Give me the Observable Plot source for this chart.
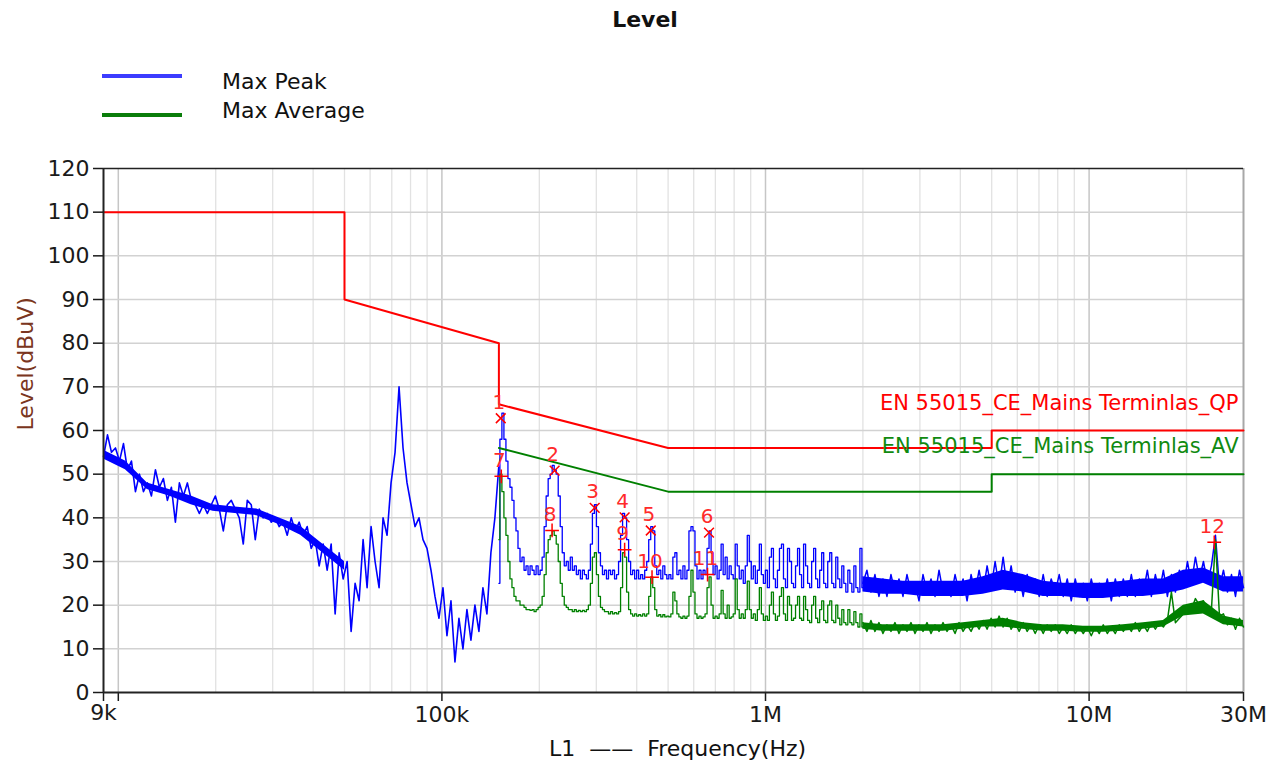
<!DOCTYPE html>
<html><head><meta charset="utf-8">
<script src="https://cdn.jsdelivr.net/npm/d3@7"></script>
<script src="https://cdn.jsdelivr.net/npm/@observablehq/plot@0.6"></script>
<style>
html,body{margin:0;padding:0;background:#fff;overflow:hidden;font-family:"DejaVu Sans",sans-serif;}
#head{position:relative;width:1275px;height:140px;}
.title{position:absolute;left:0;width:1290px;top:8px;text-align:center;font-weight:bold;font-size:22px;line-height:24px;color:#111}
.sw{position:absolute;left:102px;width:80px;height:4px}
.lt{position:absolute;left:222px;font-size:22px;line-height:26px;color:#111;white-space:nowrap}
#chart svg{display:block}
</style></head>
<body>
<div id="head">
  <div class="title">Level</div>
  <div class="sw" style="top:74px;background:#3c3cff"></div>
  <div class="lt" style="top:69px">Max Peak</div>
  <div class="sw" style="top:113px;background:#0a7d0a"></div>
  <div class="lt" style="top:98px">Max Average</div>
</div>
<div id="chart"></div>
<script>
// ---- sweep segments (start Hz, stop Hz); values are evenly spaced in log frequency
const segA = [9e3, 150e3];
const segB = [150e3, 2e6];
const segC = [2e6, 30e6];
const segLow = [9e3, 50e3];

// ---- Max Peak (dBuV)
const peakA = [54,59,55,56,53,57,51,53,46,50,
46,48,45,51,47,49,44,47,39,48,
45,48,44,43,41,43,41,43,45,42,
37,43,44,42,40,34,44,43,35,42,
40,41,39,40,38,39,36,40,37,39,
36,38,33,35,29,34,28,34,18,32,
26,30,14,25,21,35,24,38,30,24,
40,36,48,55,70,56,48,43,38,40,
35,33,28,22,17,24,13,21,7,17,
10,19,12,20,14,24,18,32,40,52];
const peakB = [25,58,64,58,53,49,47,44,40,37,
33,30,31,28,29,27,29,28,27,29,
27,28,31,38,45,49,50,52,51,50,
45,38,32,29,30,28,31,28,29,27,
28,26,28,27,26,28,34,41,43,38,
32,29,27,28,26,28,27,28,26,27,
30,36,41,40,35,30,27,28,26,28,
26,27,26,28,30,35,38,37,29,27,
28,26,29,27,26,27,26,31,32,27,
28,26,29,26,28,37,38,37,29,26,
28,26,28,27,33,37,32,27,29,26,
28,34,27,31,26,29,27,26,34,29,
26,28,25,29,36,30,26,29,25,28,
34,27,25,28,24,31,33,26,24,28,
33,34,26,24,33,30,25,24,29,33,
27,24,34,29,25,24,30,33,26,24,
28,32,25,24,30,32,25,24,31,26,
24,29,25,23,28,25,23,29,24,23,
33,24];
const peakC = [25,28,23,27,22,26,22,27,23,26,
22,27,23,25,21,27,23,26,22,28,
23,25,22,27,23,26,21,27,23,28,
23,29,24,30,24,31,24,29,23,27,
22,27,23,26,22,27,22,26,23,27,
22,26,21,26,22,25,21,26,22,25,
22,26,21,26,22,26,22,27,22,26,
23,28,22,27,23,28,22,27,23,28,
24,30,25,31,26,30,25,29,36,24,
28,23,27,22,28,24];
// dense noise core of Max Peak (low / high edge)
const peakLowLo = [53.5,51,46.5,45,43,41.5,41,40.5,38.5,36,32,28];
const peakLowHi = [55.5,53,48,46.5,45,43,42.5,42,40,38,34,30];
const peakBandLo = [23,22.5,22.5,22,22,22,22.5,23.5,23,22,22,21.5,21.5,22,22,22.5,23.5,25,23,23];
const peakBandHi = [26.5,26,25.5,25.5,25.5,25.5,26.5,28,27,25.5,25,25,25,25.5,26,26,28,28.5,26.5,26.5];

// ---- Max Average (dBuV)
const avgB = [35,50,46,40,36,30,26,24,22,21,
21,20,20,19.5,19,19,18.8,19,18.5,19,
19.5,20,22,27,32,35,36,37,36,34,
30,25,22,20,19.5,19,19,18.5,19,18.5,
18.8,18.5,18.8,18.5,19,20,25,31,32,27,
22,19.5,19,18.5,18.5,18,18.5,18,18.3,18,
18.5,24,32,31,23,19,18,17.5,18,17.5,
17.8,17.5,18,17.5,18,22,26.5,24,19,17.5,
17.8,17.3,17.8,17.3,17.5,17.3,18,23,21,18,
17.3,17,17.5,17,17.5,22,28,23,18,17,
17.5,17,17.3,18,24,26.5,20,17,17.5,17,
18,23.4,18,17,20,17,17.3,18,26,19,
17,18,17,19,25.5,19,17,18,16.5,19,
24,18,16.5,17.5,16.5,20,23,18,16.5,17.5,
22,24,18,16.5,22,20,16.5,17,20,22,
17,16.5,22,19,16.5,16,20,22,17,16,
19,21,16.5,16,20,21,16.5,16,20,17,
15.5,19,16,15.5,19,16,15.5,18.5,16,15,
18,15];
const avgC = [16,14,16.5,14,16,13.5,15.5,14,16,13.5,
15.5,14,16,13.5,15.5,14,16,13.5,15.5,14,
16,14,15.5,13.5,16,14,15.5,14,16,14.5,
16.5,14.5,17,15,17.5,15,17,14.5,16,14,
16,14,15.5,13.5,15.5,13.5,15.5,14,15.5,13.5,
15,13.5,15.5,13.5,15,13.5,15,13,15,13.5,
15.5,13.5,15,13.5,15.5,14,15.5,14,16,14,
15.5,14,16,14.5,16,15,16.5,23,16,17,
18,20,19,21.5,20,21,18.5,19,35,17.5,
18,15.5,17,14.5,17,15];
const avgBandLo = [14.5,14,14,14,14,14.5,15,15,14.5,14,14,13.8,13.8,14,14.5,15,17.5,18,15.5,15];
const avgBandHi = [16,15.5,15.5,15.5,15.5,16,16.5,17,16,15.5,15.5,15.2,15.2,15.5,16,16.5,20,21,17.5,16.5];

// ---- limit lines
const qpFreq = [9e3, 50e3, 50e3, 150e3, 150e3, 500e3, 5e6, 5e6, 30e6];
const qpLevel = [110, 110, 90, 80, 66, 56, 56, 60, 60];
const avFreq = [150e3, 500e3, 5e6, 5e6, 30e6];
const avLevel = [56, 46, 46, 50, 50];
const qpName = "EN 55015_CE_Mains Terminlas_QP";
const avName = "EN 55015_CE_Mains Terminlas_AV";

// ---- markers
const mkNo    = ["1","2","3","4","5","6","7","8","9","10","11","12"];
const mkFreq  = [152000,223000,296600,367000,442000,669000,152600,219000,367000,446000,662000,24360000];
const mkLevel = [62.8,50.8,42.3,40.1,37.1,36.6,49.5,37.1,32.7,26.4,27.0,34.4];
const mkType  = ["pk","pk","pk","pk","pk","pk","av","av","av","av","av","av"];

// ---- ticks
const yTicks = [0,10,20,30,40,50,60,70,80,90,100,110,120];
const xTickVals = [1e4, 1e5, 1e6, 1e7, 3e7];
const xTickText = ["", "100k", "1M", "10M", "30M"];
const xFirstTick = 9000;
const xFirstText = "9k";
const decades = [1e4, 1e5, 1e6, 1e7];
const mults = [1,2,3,4,5,6,7,8,9];

function expand(seg, vals) {
  const n = vals.length;
  return vals.map((v, i) => ({f: seg[0] * Math.pow(seg[1] / seg[0], i / (n - 1)), v}));
}
function expandBand(seg, lo, hi) {
  const n = lo.length;
  return lo.map((v, i) => ({f: seg[0] * Math.pow(seg[1] / seg[0], i / (n - 1)), lo: v, hi: hi[i]}));
}
const pA = expand(segA, peakA), pB = expand(segB, peakB), pC = expand(segC, peakC);
const aB = expand(segB, avgB), aC = expand(segC, avgC);
const pLow = expandBand(segLow, peakLowLo, peakLowHi);
const pBand = expandBand(segC, peakBandLo, peakBandHi);
const aBand = expandBand(segC, avgBandLo, avgBandHi);
const qp = qpFreq.map((f, i) => ({f, v: qpLevel[i]}));
const av = avFreq.map((f, i) => ({f, v: avLevel[i]}));
const markers = mkNo.map((no, i) => ({no, f: mkFreq[i], v: mkLevel[i], t: mkType[i]}));

const gridMinor = [];
for (const d of decades) for (const m of mults) { const t = d * m; if (m > 1 && t < 3e7) gridMinor.push(t); }
const gridMajor = decades;
const xLab = new Map(xTickVals.map((v, i) => [v, xTickText[i]]));

const BLUE = "#0000ff", GREEN = "#008000", RED = "#ff0000";
const INK = "#1a1a1a";
const chart = Plot.plot({
  width: 1275, height: 631,
  marginLeft: 103, marginRight: 32, marginTop: 28, marginBottom: 79,
  x: {type: "log", domain: [9e3, 3e7]},
  y: {domain: [0, 120]},
  style: {fontFamily: "DejaVu Sans", fontSize: "22px", background: "#fff", overflow: "visible"},
  marks: [
    Plot.ruleX(gridMinor, {stroke: "#e2e2e2", strokeWidth: 1.3}),
    Plot.ruleX(gridMajor, {stroke: "#c6c6c6", strokeWidth: 1.5}),
    Plot.ruleY(yTicks.slice(1, -1), {stroke: "#d2d2d2", strokeWidth: 1.5}),
    Plot.ruleX([3e7], {stroke: "#a8a8a8", strokeWidth: 2}),
    Plot.ruleY([120], {stroke: "#222", strokeWidth: 1.5}),
    // Max Peak
    Plot.areaY(pLow, {x: "f", y1: "lo", y2: "hi", fill: BLUE}),
    Plot.line(pA, {x: "f", y: "v", stroke: BLUE, strokeWidth: 1.6}),
    Plot.line(pB, {x: "f", y: "v", stroke: BLUE, strokeWidth: 1.3, curve: "step"}),
    Plot.areaY(pBand, {x: "f", y1: "lo", y2: "hi", fill: BLUE}),
    Plot.line(pC, {x: "f", y: "v", stroke: BLUE, strokeWidth: 1.5}),
    // Max Average
    Plot.line(aB, {x: "f", y: "v", stroke: GREEN, strokeWidth: 1.3, curve: "step"}),
    Plot.areaY(aBand, {x: "f", y1: "lo", y2: "hi", fill: GREEN}),
    Plot.line(aC, {x: "f", y: "v", stroke: GREEN, strokeWidth: 1.5}),
    // limits
    Plot.line(qp, {x: "f", y: "v", stroke: RED, strokeWidth: 2}),
    Plot.line(av, {x: "f", y: "v", stroke: GREEN, strokeWidth: 2}),
    Plot.dot(markers.filter(d => d.t === "pk"), {x: "f", y: "v", symbol: "times", stroke: RED, r: 4.5, strokeWidth: 1.5}),
    Plot.dot(markers.filter(d => d.t === "av"), {x: "f", y: "v", symbol: "plus", stroke: RED, r: 4.5, strokeWidth: 1.5}),
    Plot.text(markers, {x: "f", y: "v", text: "no", fill: "#ff2a2a", dx: -2, dy: -16, fontSize: 20}),
    Plot.text([qp[qp.length - 1]], {x: "f", y: "v", text: () => qpName, textAnchor: "end", dx: -5, dy: -27, fill: RED, fontSize: 21}),
    Plot.text([av[av.length - 1]], {x: "f", y: "v", text: () => avName, textAnchor: "end", dx: -5, dy: -28, fill: "#108a10", fontSize: 21}),
    Plot.axisY({ticks: yTicks, tickSize: 10, tickPadding: 4, label: null, color: INK, fontSize: 22, strokeWidth: 1.5}),
    Plot.axisX({ticks: xTickVals, tickFormat: d => xLab.get(d) ?? "", tickSize: 9, tickPadding: 5, label: null, color: INK, fontSize: 22, strokeWidth: 1.5}),
    // first (9k) tick, drawn separately
    Plot.ruleX([xFirstTick], {y1: 0, y2: 2, dy: 9, stroke: INK, strokeWidth: 1.5}),
    Plot.text([xFirstTick], {x: d => d, text: () => xFirstText, frameAnchor: "bottom", dy: 27, fill: INK, fontSize: 22}),
    Plot.ruleX([9e3], {stroke: "#222", strokeWidth: 2}),
    Plot.ruleY([0], {stroke: "#222", strokeWidth: 2}),
    Plot.text(["L1  \u2014\u2014  Frequency(Hz)"], {text: d => d, frameAnchor: "bottom", dy: 63, dx: 4, fontSize: 22, fill: "#111"}),
    Plot.text(["Level(dBuV)"], {text: d => d, frameAnchor: "left", rotate: -90, dx: -78, fill: "#7a3520", fontSize: 22})
  ]
});
document.getElementById("chart").appendChild(chart);
</script>
</body></html>
